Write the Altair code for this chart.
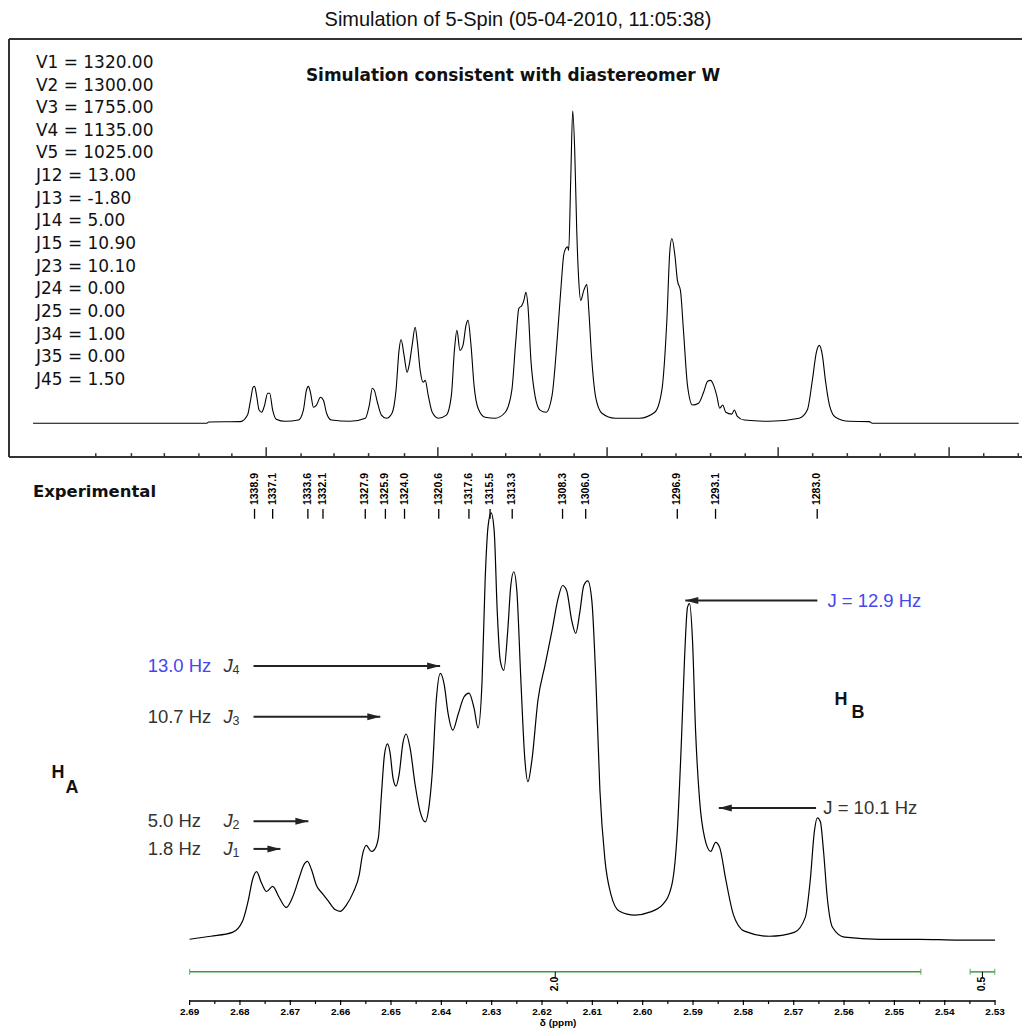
import altair as alt
import pandas as pd

SF = 500.13  # spectrometer frequency (MHz): Hz -> ppm

# ---------------- simulated spectrum (top panel) ----------------
sim_ppm = [2.7211, 2.6866, 2.6862, 2.6799, 2.6785, 2.6779, 2.6774, 2.6771, 2.6767, 2.6762,
           2.6757, 2.6751, 2.6745, 2.6741, 2.6735, 2.6728, 2.6710, 2.6684, 2.6674, 2.6668,
           2.6664, 2.6660, 2.6654, 2.6648, 2.6640, 2.6634, 2.6628, 2.6618, 2.6581, 2.6551,
           2.6543, 2.6537, 2.6533, 2.6527, 2.6519, 2.6509, 2.6498, 2.6490, 2.6484, 2.6480,
           2.6474, 2.6468, 2.6464, 2.6458, 2.6452, 2.6448, 2.6442, 2.6436, 2.6432, 2.6426,
           2.6418, 2.6406, 2.6390, 2.6380, 2.6374, 2.6369, 2.6363, 2.6357, 2.6351, 2.6347,
           2.6341, 2.6335, 2.6327, 2.6313, 2.6293, 2.6273, 2.6260, 2.6252, 2.6246, 2.6240,
           2.6236, 2.6232, 2.6228, 2.6222, 2.6214, 2.6204, 2.6192, 2.6180, 2.6170, 2.6162,
           2.6157, 2.6153, 2.6149, 2.6147, 2.6143, 2.6139, 2.6135, 2.6131, 2.6127, 2.6123,
           2.6117, 2.6111, 2.6107, 2.6101, 2.6093, 2.6081, 2.6055, 2.6006, 2.5976, 2.5962,
           2.5952, 2.5946, 2.5942, 2.5936, 2.5931, 2.5925, 2.5919, 2.5911, 2.5901, 2.5889,
           2.5879, 2.5871, 2.5865, 2.5859, 2.5853, 2.5847, 2.5841, 2.5835, 2.5823, 2.5818,
           2.5812, 2.5798, 2.5748, 2.5689, 2.5673, 2.5663, 2.5655, 2.5649, 2.5643, 2.5637,
           2.5629, 2.5617, 2.5590, 2.5550, 2.5544, 2.5253]
sim_int = [0, 0, 0.4, 0.5, 2.6, 7.3, 11.5, 11.8, 8.9, 4.2,
           3.5, 5.8, 9.6, 9.6, 4.2, 1.3, 0.6, 1.0, 4.2, 10.5,
           11.8, 9.9, 5.1, 5.8, 8.3, 7.3, 3.2, 1.0, 0.6, 1.6,
           5.8, 11.2, 10.5, 6.7, 2.6, 1.6, 3.2, 10.5, 23.3, 26.8,
           21.7, 16.3, 18.5, 24.9, 30.7, 26.5, 16.9, 13.1, 13.7, 8.9,
           3.5, 1.6, 2.6, 8.9, 23.3, 29.7, 23.3, 24.9, 31.3, 32.9,
           24.9, 12.1, 4.8, 1.9, 1.6, 3.5, 10.5, 26.5, 36.7, 37.7,
           39.3, 41.9, 37.7, 20.1, 8.9, 4.2, 3.5, 8.9, 26.5, 44.1,
           53.7, 55.9, 56.5, 55.3, 77.6, 100.0, 87.2, 61.7, 45.7, 39.3,
           42.5, 44.4, 36.1, 20.1, 8.0, 3.2, 1.6, 1.6, 3.5, 10.5,
           32.9, 55.3, 59.1, 53.7, 45.7, 42.5, 29.7, 12.1, 5.8, 6.4,
           9.9, 13.4, 13.7, 12.1, 8.9, 4.8, 5.8, 3.5, 2.9, 4.2,
           2.2, 1.0, 0.6, 1.6, 4.2, 13.7, 22.7, 24.9, 21.7, 13.7,
           5.8, 1.9, 0.6, 0.5, 0, 0]

# ---------------- experimental spectrum (bottom panel) ----------------
exp_ppm = [2.6900, 2.6858, 2.6815, 2.6795, 2.6783, 2.6775, 2.6767, 2.6757, 2.6747, 2.6735,
           2.6722, 2.6708, 2.6694, 2.6682, 2.6674, 2.6666, 2.6658, 2.6648, 2.6636, 2.6624,
           2.6611, 2.6601, 2.6589, 2.6575, 2.6563, 2.6557, 2.6549, 2.6539, 2.6533, 2.6525,
           2.6519, 2.6513, 2.6507, 2.6502, 2.6496, 2.6490, 2.6484, 2.6476, 2.6470, 2.6462,
           2.6452, 2.6442, 2.6432, 2.6424, 2.6418, 2.6410, 2.6402, 2.6394, 2.6387, 2.6377,
           2.6367, 2.6355, 2.6345, 2.6335, 2.6327, 2.6319, 2.6313, 2.6307, 2.6301, 2.6295,
           2.6289, 2.6283, 2.6276, 2.6268, 2.6262, 2.6256, 2.6250, 2.6242, 2.6234, 2.6228,
           2.6220, 2.6208, 2.6194, 2.6180, 2.6168, 2.6159, 2.6151, 2.6141, 2.6133, 2.6125,
           2.6117, 2.6109, 2.6101, 2.6093, 2.6085, 2.6075, 2.6063, 2.6046, 2.6016, 2.5986,
           2.5960, 2.5942, 2.5931, 2.5923, 2.5917, 2.5911, 2.5907, 2.5901, 2.5895, 2.5887,
           2.5877, 2.5865, 2.5855, 2.5847, 2.5835, 2.5820, 2.5798, 2.5748, 2.5699, 2.5677,
           2.5667, 2.5659, 2.5653, 2.5647, 2.5641, 2.5633, 2.5623, 2.5599, 2.5530, 2.5451,
           2.5371, 2.5300]
exp_int = [0.0, 0.7, 1.6, 4.2, 9.3, 13.9, 15.7, 13.0, 11.1, 12.3,
           9.7, 7.4, 10.2, 14.4, 17.1, 18.1, 16.2, 12.5, 10.6, 8.8,
           6.9, 6.5, 7.9, 10.9, 15.0, 19.4, 21.8, 20.4, 20.8, 23.6,
           33.6, 42.8, 45.4, 43.5, 37.5, 35.6, 38.2, 45.8, 47.7, 44.4,
           35.9, 29.6, 27.3, 31.3, 38.7, 55.6, 61.8, 59.0, 52.8, 48.6,
           52.1, 56.3, 57.2, 53.7, 49.1, 60.2, 83.3, 96.1, 99.1, 94.9,
           76.4, 64.8, 62.5, 71.8, 82.2, 85.4, 81.0, 60.2, 41.7, 36.6,
           41.7, 55.6, 63.7, 71.8, 79.2, 82.2, 81.0, 74.1, 71.1, 75.9,
           82.2, 83.3, 78.7, 60.2, 34.7, 18.5, 10.4, 6.5, 5.6, 6.3,
           8.1, 12.7, 25.5, 46.3, 64.8, 77.1, 78.0, 69.4, 48.6, 32.4,
           23.6, 20.4, 22.5, 21.3, 13.9, 5.8, 1.9, 0.7, 1.6, 5.1,
           13.9, 25.0, 28.2, 27.3, 20.8, 9.3, 2.8, 0.5, 0.0, 0.0,
           -0.2, -0.2]

# peak picking (Hz)
peak_hz = [1338.9, 1337.1, 1333.6, 1332.1, 1327.9, 1325.9, 1324.0, 1320.6,
           1317.6, 1315.5, 1313.3, 1308.3, 1306.0, 1296.9, 1293.1, 1283.0]

# simulation parameters
param_names = ["V1", "V2", "V3", "V4", "V5", "J12", "J13", "J14", "J15",
               "J23", "J24", "J25", "J34", "J35", "J45"]
param_values = [1320.00, 1300.00, 1755.00, 1135.00, 1025.00, 13.00, -1.80, 5.00,
                10.90, 10.10, 0.00, 0.00, 1.00, 0.00, 1.50]

# integrals
int_from = [2.6900, 2.53496]
int_to = [2.54474, 2.53007]
int_value = ["2.0", "0.5"]

# coupling annotations (left, H_A)
j_hz_text = ["13.0 Hz", "10.7 Hz", "5.0 Hz", "1.8 Hz"]
j_sub = ["4", "3", "2", "1"]
j_tip = [2.64024, 2.65213, 2.66641, 2.67196]
j_color = ["#4646f0", "#333333", "#333333", "#333333"]

# coupling annotations (right, H_B)
b_text = ["J = 12.9 Hz", "J = 10.1 Hz"]
b_tip = [2.59153, 2.58487]
b_color = ["#4646f0", "#333333"]

# axis ticks
axis_major = [2.69, 2.68, 2.67, 2.66, 2.65, 2.64, 2.63, 2.62, 2.61, 2.60,
              2.59, 2.58, 2.57, 2.56, 2.55, 2.54, 2.53]
axis_labels = ["2.69", "2.68", "2.67", "2.66", "2.65", "2.64", "2.63", "2.62", "2.61",
               "2.60", "2.59", "2.58", "2.57", "2.56", "2.55", "2.54", "2.53"]
axis_minor = [2.685, 2.675, 2.665, 2.655, 2.645, 2.635, 2.625, 2.615, 2.605,
              2.595, 2.585, 2.575, 2.565, 2.555, 2.545, 2.535]
top_major_ticks = [2.67479, 2.64069, 2.60707, 2.57309, 2.53913]
top_minor_ticks = [2.70864, 2.70156, 2.69502, 2.68816, 2.68161, 2.66786, 2.66131,
                   2.65445, 2.64731, 2.63389, 2.62721, 2.62041, 2.61361, 2.60019,
                   2.59339, 2.58651, 2.57963, 2.56623, 2.55935, 2.55281, 2.54593,
                   2.53225, 2.52539]

# ---------------- layout constants (annotation anchors in data units) ----------------
W = 1015
TOP_H = 419
BOT_H = 544
XS = alt.Scale(domain=[2.52465, 2.72588], reverse=True, nice=False, zero=False)
YS_TOP = alt.Scale(domain=[-10.86, 123.0], nice=False, zero=False)
YS_BOT = alt.Scale(domain=[-14.35, 111.8], nice=False, zero=False)
ONE = pd.DataFrame({"_": [0]})
FRAME = "#333333"
GREEN = "#3c9c3c"
ARROW = "#222222"
HEAD_R = "M0,0 L-1,-0.27 L-1,0.27 Z"
HEAD_L = "M0,0 L1,-0.27 L1,0.27 Z"
J_LEVELS = [63.5, 51.7, 27.4, 21.0]
B_LEVELS = [78.7, 30.5]
LBL_Y, TICK_Y0, TICK_Y1 = 100.9, 100.0, 97.7
INT_Y, INT_LBL_Y = -7.57, -10.4


def X(field, axis=None):
    return alt.X(field, type="quantitative", scale=XS, axis=axis)


def Y(field, scale):
    return alt.Y(field, type="quantitative", scale=scale, axis=None)


def pt(x, y, **extra):
    d = {"x": [x], "y": [y]}
    d.update({k: [v] for k, v in extra.items()})
    return pd.DataFrame(d)


# ================= TOP PANEL =================
sim_df = pd.DataFrame({"ppm": sim_ppm, "int": sim_int})
sim_line = alt.Chart(sim_df).mark_line(color="black", strokeWidth=1.1, interpolate="monotone").encode(
    x=X("ppm"), y=Y("int", YS_TOP))

maj_ticks = alt.Chart(pd.DataFrame({"ppm": top_major_ticks})).mark_rule(color=FRAME, strokeWidth=1.5).encode(
    x=X("ppm"), y=alt.value(TOP_H - 10), y2=alt.value(TOP_H))
min_ticks = alt.Chart(pd.DataFrame({"ppm": top_minor_ticks})).mark_rule(color=FRAME, strokeWidth=1.5).encode(
    x=X("ppm"), y=alt.value(TOP_H - 4), y2=alt.value(TOP_H))

frame_top = alt.Chart(ONE).mark_rule(color=FRAME, strokeWidth=2).encode(
    x=alt.value(0), x2=alt.value(W), y=alt.value(0))
frame_bot = alt.Chart(ONE).mark_rule(color=FRAME, strokeWidth=2).encode(
    x=alt.value(0), x2=alt.value(W), y=alt.value(TOP_H))
frame_left = alt.Chart(ONE).mark_rule(color=FRAME, strokeWidth=2).encode(
    x=alt.value(0), y=alt.value(0), y2=alt.value(TOP_H))

params_df = pd.DataFrame({"txt": ["\n".join(f"{n} = {v:.2f}" for n, v in zip(param_names, param_values))]})
params_text = alt.Chart(params_df).mark_text(
    align="left", baseline="top", font="DejaVu Sans", fontSize=17, lineHeight=22.7,
    lineBreak="\n", color="#111111").encode(x=alt.value(27), y=alt.value(16), text="txt:N")

subtitle = alt.Chart(ONE).mark_text(
    text="Simulation consistent with diastereomer W", font="DejaVu Sans", fontWeight="bold",
    fontSize=17, align="center", baseline="middle", color="#111111").encode(
    x=alt.value(505), y=alt.value(37))

title = alt.Chart(ONE).mark_text(
    text="Simulation of 5-Spin (05-04-2010, 11:05:38)", font="Liberation Sans", fontSize=20,
    align="center", baseline="middle", color="#111111").encode(
    x=alt.value(510), y=alt.value(-19))

top = alt.layer(frame_top, frame_bot, frame_left, maj_ticks, min_ticks, sim_line,
                params_text, subtitle, title).properties(width=W, height=TOP_H)

# ================= BOTTOM PANEL =================
exp_df = pd.DataFrame({"ppm": exp_ppm, "int": exp_int})
exp_line = alt.Chart(exp_df).mark_line(color="black", strokeWidth=1.2, interpolate="monotone").encode(
    x=X("ppm"), y=Y("int", YS_BOT))

# ppm axis (drawn only over the experimental range)
axis_line = alt.Chart(pd.DataFrame({"a": [axis_major[0]], "b": [axis_major[-1]]})).mark_rule(
    color="black", strokeWidth=1.5).encode(x=X("a"), x2="b:Q", y=alt.value(BOT_H))
ax_major = alt.Chart(pd.DataFrame({"ppm": axis_major, "lbl": axis_labels})).mark_rule(
    color="black", strokeWidth=1.2).encode(x=X("ppm"), y=alt.value(BOT_H - 1), y2=alt.value(BOT_H + 4))
ax_minor = alt.Chart(pd.DataFrame({"ppm": axis_minor})).mark_rule(
    color="black", strokeWidth=1.2).encode(x=X("ppm"), y=alt.value(BOT_H), y2=alt.value(BOT_H + 3))
ax_labels = alt.Chart(pd.DataFrame({"ppm": axis_major, "lbl": axis_labels})).mark_text(
    font="Liberation Sans", fontWeight="bold", fontSize=10, align="center", baseline="middle",
    color="black").encode(x=X("ppm"), y=alt.value(BOT_H + 11), text="lbl:N")

ppm_title = alt.Chart(pt(2.6168, 0)).mark_text(
    text="δ (ppm)", font="Liberation Sans", fontWeight="bold", fontSize=10,
    align="center", baseline="middle", color="black").encode(x=X("x"), y=alt.value(BOT_H + 22))

peaks_df = pd.DataFrame({"hz": peak_hz, "lbl": [f"{h:.1f}" for h in peak_hz]})
peaks_df["ly"] = LBL_Y
peaks_df["t0"] = TICK_Y0
peaks_df["t1"] = TICK_Y1
peak_text = alt.Chart(peaks_df).transform_calculate(ppm=f"datum.hz / {SF}").mark_text(
    angle=270, align="left", baseline="middle", font="Liberation Sans", fontWeight="bold",
    fontSize=10.5, color="black").encode(x=X("ppm"), y=Y("ly", YS_BOT), text="lbl:N")
peak_tick = alt.Chart(peaks_df).transform_calculate(ppm=f"datum.hz / {SF}").mark_rule(
    color="black", strokeWidth=1.3).encode(x=X("ppm"), y=Y("t0", YS_BOT), y2="t1:Q")

experimental = alt.Chart(pt(2.72113, 103.9)).mark_text(
    text="Experimental", font="DejaVu Sans", fontWeight="bold", fontSize=16.5,
    align="left", baseline="middle", color="#111111").encode(x=X("x"), y=Y("y", YS_BOT))

# integrals
int_df = pd.DataFrame({"a": int_from, "b": int_to, "v": int_value})
int_df["y"] = INT_Y
int_df["y2"] = INT_Y - 1.3
int_df["ly"] = INT_LBL_Y
int_line = alt.Chart(int_df).mark_rule(color=GREEN, strokeWidth=1.5).encode(
    x=X("a"), x2="b:Q", y=Y("y", YS_BOT))
int_cap_a = alt.Chart(int_df).mark_tick(color=GREEN, orient="vertical", size=6, thickness=1.2).encode(
    x=X("a"), y=Y("y", YS_BOT))
int_cap_b = alt.Chart(int_df).mark_tick(color=GREEN, orient="vertical", size=6, thickness=1.2).encode(
    x=X("b"), y=Y("y", YS_BOT))
int_conn = alt.Chart(int_df).transform_calculate(m="(datum.a + datum.b) / 2").mark_rule(
    color="black", strokeWidth=1).encode(x=X("m"), y=Y("y", YS_BOT), y2="y2:Q")
int_lbl = alt.Chart(int_df).transform_calculate(m="(datum.a + datum.b) / 2").mark_text(
    angle=270, align="center", baseline="middle", font="Liberation Sans", fontWeight="bold",
    fontSize=10.5, color="black").encode(x=X("m"), y=Y("ly", YS_BOT), text="v:N")

# left J annotations
jl_df = pd.DataFrame({"t": j_hz_text, "s": j_sub, "tip": j_tip, "c": j_color})
jl_df["y"] = J_LEVELS
jl_df["tx"] = 2.69833
jl_df["jx"] = 2.68326
jl_df["sx"] = 2.68147
jl_df["st"] = 2.67731
jl_hz = alt.Chart(jl_df).mark_text(align="left", baseline="middle", font="Liberation Sans",
                                   fontSize=18.5).encode(
    x=X("tx"), y=Y("y", YS_BOT), text="t:N", color=alt.Color("c:N", scale=None))
jl_J = alt.Chart(jl_df).mark_text(text="J", align="left", baseline="middle", font="Liberation Sans",
                                  fontStyle="italic", fontSize=18.5, color="#333333").encode(
    x=X("jx"), y=Y("y", YS_BOT))
jl_sub = alt.Chart(jl_df).mark_text(align="left", baseline="middle", font="Liberation Sans",
                                    fontSize=12.5, dy=4, color="#333333").encode(
    x=X("sx"), y=Y("y", YS_BOT), text="s:N")
jl_line = alt.Chart(jl_df).mark_rule(color=ARROW, strokeWidth=2).encode(
    x=X("st"), x2="tip:Q", y=Y("y", YS_BOT))
jl_head = alt.Chart(jl_df).mark_point(shape=HEAD_R, size=676, filled=True, opacity=1,
                                      color=ARROW, strokeWidth=0).encode(
    x=X("tip"), y=Y("y", YS_BOT))

# right J annotations
jr_df = pd.DataFrame({"t": b_text, "tip": b_tip, "c": b_color})
jr_df["y"] = B_LEVELS
jr_df["tx"] = [2.56331, 2.56411]
jr_df["st"] = [2.56530, 2.56556]
jr_txt = alt.Chart(jr_df).mark_text(align="left", baseline="middle", font="Liberation Sans",
                                    fontSize=18.5).encode(
    x=X("tx"), y=Y("y", YS_BOT), text="t:N", color=alt.Color("c:N", scale=None))
jr_line = alt.Chart(jr_df).mark_rule(color=ARROW, strokeWidth=2).encode(
    x=X("st"), x2="tip:Q", y=Y("y", YS_BOT))
jr_head = alt.Chart(jr_df).mark_point(shape=HEAD_L, size=676, filled=True, opacity=1,
                                      color=ARROW, strokeWidth=0).encode(
    x=X("tip"), y=Y("y", YS_BOT))

# H_A / H_B labels
h_df = pd.DataFrame({"t": ["H", "A", "H", "B"],
                     "x": [2.71617, 2.71339, 2.56060, 2.55723],
                     "y": [38.7, 35.2, 55.6, 52.5]})
h_lbl = alt.Chart(h_df).mark_text(font="Liberation Sans", fontWeight="bold", fontSize=18,
                                  align="center", baseline="middle", color="#111111").encode(
    x=X("x"), y=Y("y", YS_BOT), text="t:N")

bottom = alt.layer(
    exp_line, axis_line, ax_major, ax_minor, ax_labels, ppm_title, peak_text, peak_tick,
    experimental, int_line, int_cap_a, int_cap_b, int_conn, int_lbl,
    jl_line, jl_head, jl_hz, jl_J, jl_sub,
    jr_line, jr_head, jr_txt, h_lbl,
).properties(width=W, height=BOT_H)

chart = alt.vconcat(top, bottom, spacing=0).properties(
    padding={"left": 0, "top": 1, "right": 0, "bottom": 0}).configure_view(stroke=None)

chart.save("out.html", embed_options={"renderer": "svg", "actions": False})
